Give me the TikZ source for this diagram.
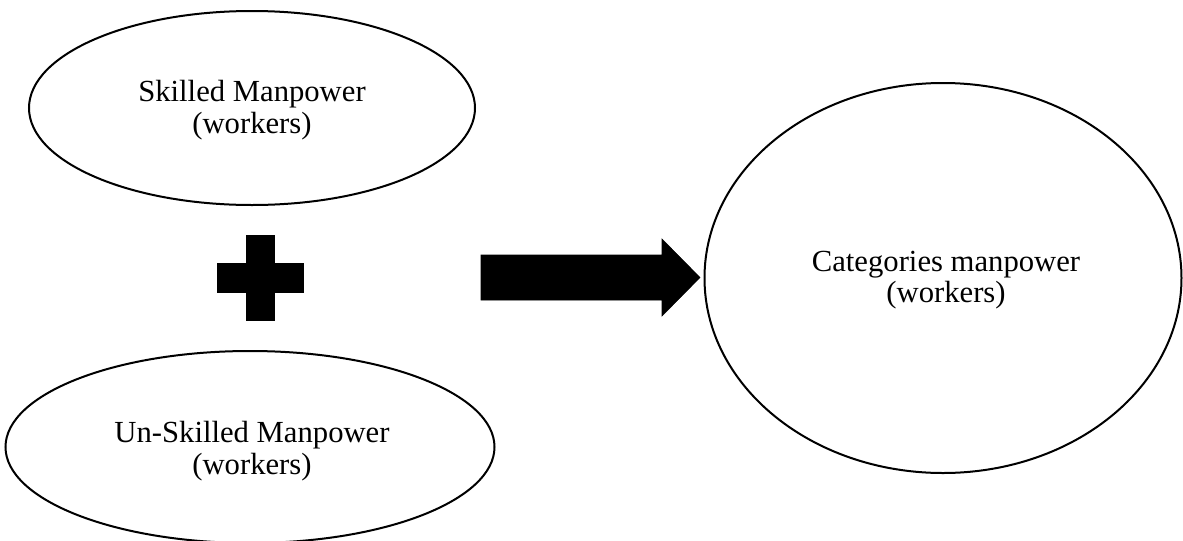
\documentclass[tikz,border=0pt]{standalone}
\usepackage{fontspec}
\setmainfont{Liberation Serif}
\usepackage{xcolor}

\begin{document}
\begin{tikzpicture}[x=0.75pt,y=0.75pt,yscale=-1,xscale=1,
  txt/.style={align=center,font=\fontsize{23}{23.6}\selectfont}]
%set diagram left start at 0, and has height of 540
\path[use as bounding box] (0,0) rectangle (1183,540);

%Shape: Ellipse
\draw [line width=1.5] (252,108) ellipse (223 and 97);
%Shape: Ellipse
\draw [line width=1.5] (250,447) ellipse (244.5 and 96);
%Shape: Ellipse
\draw [line width=1.5] (943,278) ellipse (238.5 and 195);

%Shape: Cross
\draw [fill={rgb, 255:red, 0; green, 0; blue, 0 }, fill opacity=1] (246,235) -- (274,235) -- (274,263) -- (303,263) -- (303,292) -- (274,292) -- (274,320) -- (246,320) -- (246,292) -- (217,292) -- (217,263) -- (246,263) -- cycle ;
%Shape: Right Arrow
\draw [fill={rgb, 255:red, 0; green, 0; blue, 0 }, fill opacity=1] (481,255) -- (662,255) -- (662,239) -- (700,277.5) -- (662,316) -- (662,300) -- (481,300) -- cycle ;

% Text Node
\draw (252,110) node [txt] (skilled) {Skilled Manpower\\(workers)};
% Text Node
\draw (252,451) node [txt] (unskilled) {Un-Skilled Manpower\\(workers)};
% Text Node
\draw (946,280) node [txt] (categories) {Categories manpower\\(workers)};

\end{tikzpicture}
\end{document}
